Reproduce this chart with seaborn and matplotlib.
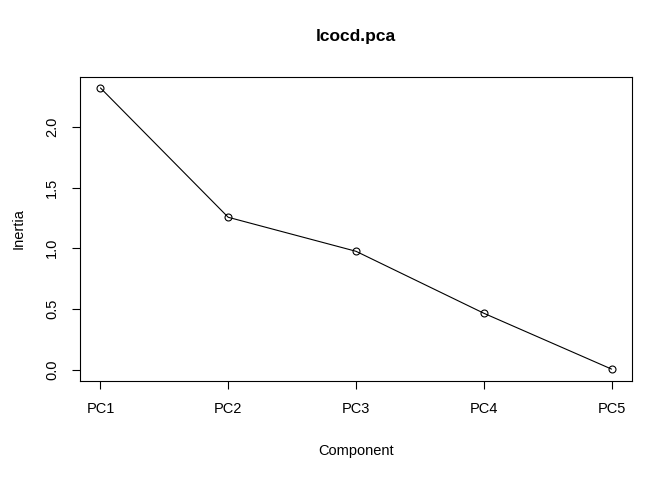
import numpy as np
import pandas as pd
import matplotlib
matplotlib.use("Agg")
import matplotlib.pyplot as plt
import seaborn as sns

components = ["PC1", "PC2", "PC3", "PC4", "PC5"]
inertia = [2.32, 1.255, 0.975, 0.465, 0.005]

df = pd.DataFrame({"Component": components, "Inertia": inertia})
df["x"] = np.arange(1, len(components) + 1)

sns.set_style("white")
plt.rcParams["font.family"] = ["Liberation Sans", "DejaVu Sans"]
plt.rcParams["text.color"] = "black"
plt.rcParams["axes.labelcolor"] = "black"
plt.rcParams["xtick.color"] = "black"
plt.rcParams["ytick.color"] = "black"

fig = plt.figure(figsize=(6.72, 4.8), dpi=100)
ax = fig.add_axes([80/672, 1-381/480, (632-80)/672, (381-77)/480])
sns.lineplot(data=df, x="x", y="Inertia", ax=ax, color="black", linewidth=0.8,
             marker="o", markersize=5, markerfacecolor="none", markeredgecolor="black",
             markeredgewidth=0.8)
ax.set_xlim(0.84, 5.16)
ax.set_ylim(-0.093, 2.41)
ax.set_xticks(df["x"])
ax.set_xticklabels(components)
ax.set_yticks([0, 0.5, 1.0, 1.5, 2.0])
ax.set_yticklabels(["0.0", "0.5", "1.0", "1.5", "2.0"], rotation=90, va="center")
ax.tick_params(direction="out", length=6, width=0.8, labelsize=10.5, pad=9,
               bottom=True, left=True)
for s in ax.spines.values():
    s.set_color("black"); s.set_linewidth(0.8)
ax.set_xlabel("Component", fontsize=10.5, labelpad=20)
ax.set_ylabel("Inertia", fontsize=10.5, labelpad=14)
ax.set_title("lcocd.pca", fontsize=12.5, fontweight="bold", pad=26)
fig.savefig("out.png", dpi=100)
